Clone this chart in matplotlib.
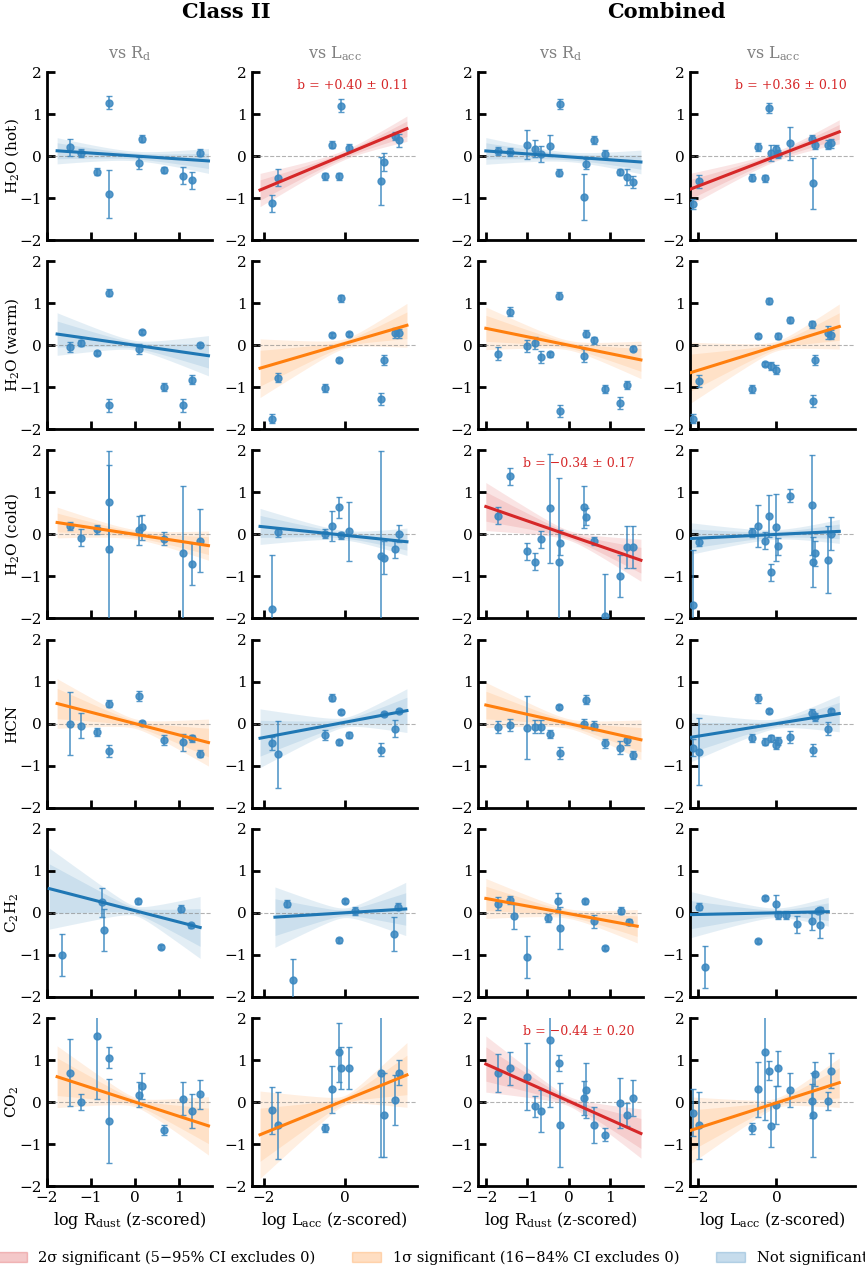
import numpy as np
import matplotlib.pyplot as plt
from matplotlib.patches import Patch

plt.rcParams['font.family'] = 'DejaVu Serif'
plt.rcParams['mathtext.fontset'] = 'dejavuserif'

molecules = ['H$_2$O (hot)', 'H$_2$O (warm)', 'H$_2$O (cold)', 'HCN', 'C$_2$H$_2$', 'CO$_2$']
col_titles = ['vs R$_\\mathrm{d}$', 'vs L$_\\mathrm{acc}$', 'vs R$_\\mathrm{d}$', 'vs L$_\\mathrm{acc}$']
xlabels = ['log R$_\\mathrm{dust}$ (z-scored)', 'log L$_\\mathrm{acc}$ (z-scored)',
           'log R$_\\mathrm{dust}$ (z-scored)', 'log L$_\\mathrm{acc}$ (z-scored)']

# x positions (z-scored)
x_c2_rd = [-1.47, -1.23, -0.86, -0.6, -0.58, 0.09, 0.16, 0.67, 1.09, 1.3, 1.47]
x_c2_la = [-1.8, -1.65, -0.48, -0.32, -0.15, -0.1, 0.12, 0.9, 0.98, 1.25, 1.35]
x_cb_rd = [-1.71, -1.43, -1.0, -0.81, -0.67, -0.46, -0.23, -0.21, 0.37, 0.42, 0.62, 0.88, 1.25, 1.41, 1.55]
x_cb_la = [-2.12, -1.98, -0.62, -0.48, -0.28, -0.2, -0.15, 0.0, 0.05, 0.35, 0.9, 0.92, 0.98, 1.3, 1.4]
x_c2_rd_c2h2 = [-1.65, -0.75, -0.7, 0.07, 0.6, 1.05, 1.28]
x_c2_la_c2h2 = [-1.43, -1.28, -0.15, 0.02, 0.27, 1.22, 1.32]
x_cb_rd_c2h2 = [-1.71, -1.43, -1.32, -1.0, -0.51, -0.25, -0.21, 0.39, 0.62, 0.88, 1.27, 1.46]
x_cb_la_c2h2 = [-1.98, -1.83, -0.48, -0.28, 0.0, 0.05, 0.25, 0.52, 0.9, 1.05, 1.12, 1.1]

# values and errors per panel [row][col]
y_vals = [
    [[0.21, 0.07, -0.37, 1.27, -0.9, -0.17, 0.41, -0.33, -0.47, -0.58, 0.08],
     [-1.13, -0.52, -0.48, 0.27, -0.48, 1.2, 0.2, -0.6, -0.14, 0.48, 0.37],
     [0.12, 0.1, 0.27, 0.17, 0.05, 0.25, -0.4, 1.23, -0.97, -0.2, 0.38, 0.05, -0.38, -0.5, -0.62],
     [-1.15, -0.6, -0.52, 0.22, -0.53, 1.15, 0.07, 0.17, 0.05, 0.3, 0.4, -0.65, 0.27, 0.27, 0.3]],
    [[-0.05, 0.05, -0.18, 1.25, -1.43, -0.08, 0.32, -1.0, -1.43, -0.82, 0.0],
     [-1.75, -0.77, -1.02, 0.25, -0.35, 1.12, 0.27, -1.28, -0.35, 0.3, 0.28],
     [-0.2, 0.8, -0.02, 0.05, -0.28, -0.22, 1.18, -1.57, -0.25, 0.27, 0.12, -1.05, -1.38, -0.95, -0.08],
     [-1.75, -0.85, -1.05, 0.22, -0.45, 1.05, -0.5, -0.58, 0.22, 0.6, 0.5, -1.33, -0.35, 0.3, 0.25]],
    [[0.2, -0.08, 0.12, 0.78, -0.35, 0.1, 0.17, -0.1, -0.45, -0.7, -0.15],
     [-1.78, 0.05, 0.02, 0.2, 0.65, -0.02, 0.07, -0.52, -0.55, -0.35, 0.02],
     [0.45, 1.38, -0.4, -0.65, -0.12, 0.62, -0.65, -0.2, 0.65, 0.42, -0.15, -1.95, -1.0, -0.3, -0.3],
     [-1.68, -0.18, 0.05, 0.2, -0.15, 0.45, -0.9, 0.17, -0.28, 0.92, 0.7, -0.65, -0.45, -0.6, 0.02]],
    [[0.0, -0.05, -0.2, 0.47, -0.65, 0.65, 0.02, -0.38, -0.45, -0.35, -0.72],
     [-0.47, -0.73, -0.27, 0.62, -0.45, 0.28, -0.27, -0.62, 0.22, -0.12, 0.3],
     [-0.08, -0.03, -0.1, -0.07, -0.07, -0.25, 0.4, -0.7, 0.0, 0.57, -0.05, -0.47, -0.57, -0.4, -0.75],
     [-0.57, -0.67, -0.35, 0.6, -0.43, 0.3, -0.35, -0.5, -0.42, -0.32, 0.25, -0.63, 0.15, -0.12, 0.3]],
    [[-1.0, 0.25, -0.42, 0.27, -0.82, 0.1, -0.3],
     [0.22, -1.6, -0.65, 0.28, 0.05, -0.5, 0.15],
     [0.22, 0.3, -0.08, -1.05, -0.12, 0.28, -0.35, 0.27, -0.2, -0.83, 0.05, -0.22],
     [0.15, -1.3, -0.67, 0.35, 0.22, -0.05, -0.05, -0.27, -0.2, 0.05, 0.07, -0.3]],
    [[0.7, 0.0, 1.58, 1.05, -0.45, 0.17, 0.38, -0.67, 0.08, -0.22, 0.18],
     [-0.2, -0.55, -0.62, 0.3, 1.18, 0.8, 0.82, 0.68, -0.3, 0.05, 0.7],
     [0.7, 0.8, 0.6, -0.1, -0.22, 1.48, 0.93, -0.55, 0.1, 0.28, -0.55, -0.78, -0.03, -0.3, 0.1],
     [-0.25, -0.55, -0.63, 0.3, 1.18, 0.75, -0.57, -0.07, 0.8, 0.28, 0.03, -0.32, 0.67, 0.02, 0.75]],
]
y_errs = [
    [[0.2, 0.1, 0.08, 0.15, 0.57, 0.15, 0.08, 0.08, 0.2, 0.2, 0.08],
     [0.2, 0.2, 0.08, 0.08, 0.08, 0.15, 0.08, 0.57, 0.22, 0.1, 0.15],
     [0.1, 0.1, 0.35, 0.2, 0.2, 0.25, 0.08, 0.12, 0.55, 0.12, 0.1, 0.1, 0.08, 0.2, 0.15],
     [0.12, 0.15, 0.08, 0.1, 0.08, 0.12, 0.2, 0.1, 0.1, 0.4, 0.1, 0.6, 0.1, 0.1, 0.1]],
    [[0.12, 0.08, 0.05, 0.08, 0.15, 0.12, 0.05, 0.1, 0.15, 0.1, 0.05],
     [0.1, 0.1, 0.1, 0.05, 0.05, 0.08, 0.05, 0.15, 0.12, 0.12, 0.1],
     [0.15, 0.1, 0.15, 0.15, 0.15, 0.05, 0.08, 0.15, 0.15, 0.08, 0.08, 0.1, 0.15, 0.1, 0.05],
     [0.1, 0.15, 0.1, 0.05, 0.05, 0.08, 0.1, 0.1, 0.08, 0.08, 0.08, 0.15, 0.12, 0.15, 0.1]],
    [[0.1, 0.2, 0.1, 1.2, 2.0, 0.35, 0.3, 0.15, 1.6, 0.5, 0.75],
     [1.3, 0.1, 0.1, 0.35, 0.25, 0.08, 0.7, 2.5, 0.4, 0.2, 0.2],
     [0.2, 0.2, 0.2, 0.2, 0.2, 1.3, 2.0, 0.3, 0.5, 0.2, 0.1, 1.0, 0.5, 0.5, 0.5],
     [1.3, 0.1, 0.1, 0.5, 0.2, 0.5, 0.2, 0.8, 0.2, 0.15, 1.2, 0.6, 0.3, 0.8, 0.4]],
    [[0.75, 0.3, 0.1, 0.08, 0.15, 0.12, 0.05, 0.12, 0.2, 0.08, 0.08],
     [0.15, 0.8, 0.12, 0.08, 0.05, 0.05, 0.08, 0.15, 0.05, 0.2, 0.05],
     [0.15, 0.15, 0.75, 0.15, 0.15, 0.1, 0.05, 0.15, 0.1, 0.1, 0.1, 0.1, 0.15, 0.1, 0.1],
     [0.2, 0.8, 0.1, 0.1, 0.08, 0.05, 0.08, 0.1, 0.1, 0.15, 0.1, 0.15, 0.1, 0.15, 0.05]],
    [[0.5, 0.35, 0.5, 0.05, 0.05, 0.08, 0.05],
     [0.08, 0.5, 0.06, 0.05, 0.1, 0.4, 0.08],
     [0.15, 0.1, 0.3, 0.5, 0.1, 0.2, 0.5, 0.05, 0.15, 0.05, 0.08, 0.08],
     [0.08, 0.5, 0.05, 0.05, 0.2, 0.1, 0.1, 0.2, 0.2, 0.05, 0.08, 0.3]],
    [[0.8, 0.2, 1.5, 0.25, 1.0, 0.3, 0.3, 0.12, 0.4, 0.4, 0.35],
     [0.55, 0.8, 0.1, 0.55, 0.7, 0.5, 0.5, 2.0, 1.0, 0.6, 0.3],
     [0.45, 0.4, 0.8, 0.25, 0.5, 1.6, 0.2, 1.0, 0.4, 0.65, 0.43, 0.15, 0.6, 0.27, 0.43],
     [0.55, 0.8, 0.12, 0.65, 1.6, 0.22, 0.5, 0.45, 0.42, 0.4, 0.4, 1.0, 0.28, 0.22, 0.42]],
]

# fitted slope b, its error, intercept [row][col]
slopes = [[-0.07, 0.40, -0.07, 0.36],
          [-0.15, 0.28, -0.20, 0.29],
          [-0.16, -0.10, -0.34, 0.045],
          [-0.27, 0.18, -0.22, 0.15],
          [-0.27, 0.06, -0.18, 0.02],
          [-0.34, 0.39, -0.44, 0.30]]
slope_errs = [[0.10, 0.11, 0.09, 0.10],
              [0.17, 0.20, 0.15, 0.20],
              [0.12, 0.12, 0.17, 0.10],
              [0.20, 0.20, 0.16, 0.16],
              [0.30, 0.25, 0.14, 0.15],
              [0.25, 0.30, 0.20, 0.22]]
intercepts = [[0.0, 0.03, -0.02, 0.0],
              [0.0, 0.04, 0.0, -0.02],
              [0.0, -0.02, -0.02, 0.0],
              [0.0, 0.03, 0.0, 0.0],
              [0.05, 0.0, -0.02, 0.0],
              [0.0, 0.04, 0.02, -0.02]]
intercept_err = 0.07


def xs_for(r, c):
    if r == 4:
        return [x_c2_rd_c2h2, x_c2_la_c2h2, x_cb_rd_c2h2, x_cb_la_c2h2][c]
    return [x_c2_rd, x_c2_la, x_cb_rd, x_cb_la][c]


RED, ORANGE, BLUE = '#d62728', '#ff7f0e', '#1f77b4'
PT = '#3a87c0'

fig = plt.figure(figsize=(8.65, 12.77), dpi=100)
W, H = 865, 1277
lefts = [47, 252, 478, 690]
xlims = [(-2.0, 1.75), (-2.3, 1.8), (-2.2, 1.8), (-2.2, 2.0)]
xticks = [[-2, -1, 0, 1], [-2, 0], [-2, -1, 0, 1], [-2, 0]]

for r in range(6):
    top = 72 + 189.2 * r
    for c in range(4):
        ax = fig.add_axes([lefts[c] / W, 1 - (top + 168) / H, 165 / W, 168 / H])
        x = np.array(xs_for(r, c))
        y = np.array(y_vals[r][c])
        e = np.array(y_errs[r][c])
        b, be, a = slopes[r][c], slope_errs[r][c], intercepts[r][c]
        sig = abs(b) / be
        col = RED if sig > 1.64 else (ORANGE if sig > 1.0 else BLUE)
        xx = np.linspace(x.min() - 0.3, x.max() + 0.2, 50)
        yy = a + b * xx
        spread = np.sqrt(intercept_err ** 2 + (be * xx) ** 2)
        ax.fill_between(xx, yy - 1.64 * spread, yy + 1.64 * spread, color=col, alpha=0.12, lw=0)
        ax.fill_between(xx, yy - spread, yy + spread, color=col, alpha=0.12, lw=0)
        ax.axhline(0, color='grey', ls='--', lw=0.8, alpha=0.6)
        ax.errorbar(x, y, yerr=e, fmt='o', ms=5, color=PT, ecolor=PT, elinewidth=1.2,
                    capsize=2, alpha=0.85, zorder=3)
        ax.plot(xx, yy, color=col, lw=2.2, zorder=4)
        if col == RED:
            ax.text(0.95, 0.92, f'b = {b:+.2f} ± {be:.2f}'.replace('-', '−'),
                    transform=ax.transAxes, ha='right', va='center', color=RED, fontsize=9)
        ax.set_ylim(-2, 2)
        ax.set_xlim(*xlims[c])
        ax.set_yticks([-2, -1, 0, 1, 2])
        ax.set_xticks(xticks[c])
        for s in ['top', 'right']:
            ax.spines[s].set_visible(False)
        for s in ['left', 'bottom']:
            ax.spines[s].set_linewidth(2)
        ax.tick_params(direction='in', length=6, width=2, labelsize=11)
        if r < 5:
            ax.set_xticklabels([])
        else:
            ax.set_xlabel(xlabels[c], fontsize=11.5)
        if c == 0:
            fig.text(12 / W, 1 - (top + 84) / H, molecules[r], rotation=90,
                     ha='center', va='center', fontsize=11)
        if r == 0:
            ax.set_title(col_titles[c], color='grey', fontsize=11.5, pad=10)

fig.text(226 / W, 1 - 12 / H, 'Class II', ha='center', va='center', fontsize=15, fontweight='bold')
fig.text(666 / W, 1 - 12 / H, 'Combined', ha='center', va='center', fontsize=15, fontweight='bold')

handles = [Patch(facecolor=RED, alpha=0.25, edgecolor=RED),
           Patch(facecolor=ORANGE, alpha=0.25, edgecolor=ORANGE),
           Patch(facecolor=BLUE, alpha=0.25, edgecolor=BLUE)]
labels = ['2σ significant (5−95% CI excludes 0)', '1σ significant (16−84% CI excludes 0)', 'Not significant']
fig.legend(handles, labels, loc='center', bbox_to_anchor=(0.5, 1 - 1258 / H), ncol=3,
           frameon=False, fontsize=10.5, columnspacing=2.5)

fig.savefig('out.png', dpi=100)
